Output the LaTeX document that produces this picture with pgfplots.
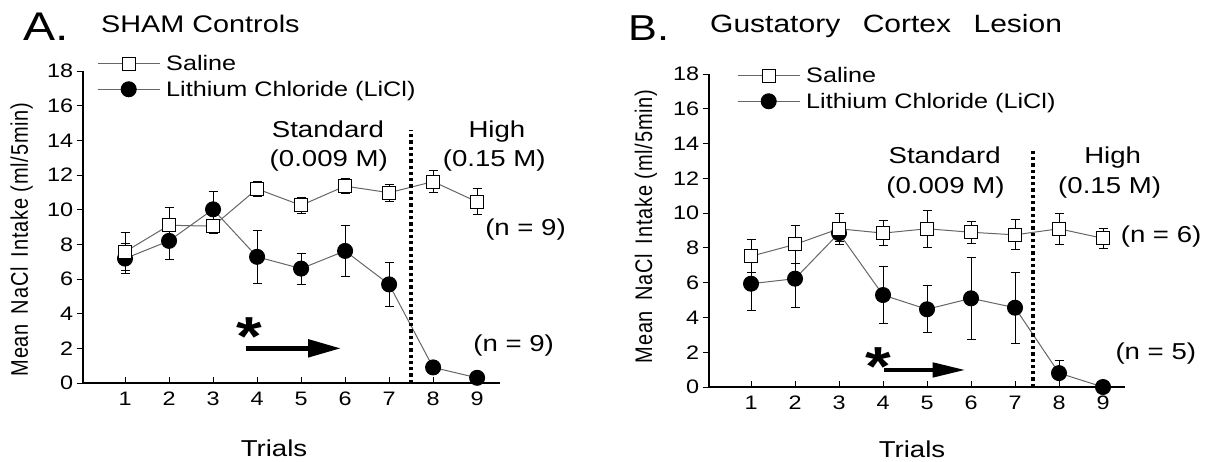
\documentclass[border=0pt]{standalone}
\usepackage{fontspec}
\setmainfont{Liberation Sans}[FakeStretch=1.2]
\newfontfamily\ylabfont{Liberation Sans}[LetterSpace=4]
\usepackage{graphicx}
\usepackage{pgfplots}
\pgfplotsset{compat=1.18}
\usepackage{pgfplotstable}
\usetikzlibrary{arrows.meta}

% trial, mean, sem
\pgfplotstableread{
x y e
1 7.57 1.10
2 9.10 1.00
3 9.05 0.40
4 11.20 0.45
5 10.25 0.45
6 11.36 0.43
7 10.98 0.50
8 11.62 0.65
9 10.45 0.75
}\shamsal
\pgfplotstableread{
x y e
1 7.18 0.85
2 8.20 1.10
3 10.02 1.05
4 7.28 1.53
5 6.60 0.90
6 7.62 1.48
7 5.69 1.26
8 0.90 0
9 0.30 0
}\shamli
\pgfplotstableread{
x y e
1 7.52 0.95
2 8.20 1.08
3 9.10 0.90
4 8.85 0.70
5 9.10 1.05
6 8.90 0.62
7 8.75 0.86
8 9.10 0.90
9 8.55 0.57
}\gcsal
\pgfplotstableread{
x y e
1 5.94 1.53
2 6.23 1.65
3 8.85 0.50
4 5.29 1.63
5 4.47 1.36
6 5.10 2.35
7 4.56 2.03
8 0.80 0.75
9 0.00 0
}\gcli

\tikzset{
  note/.style={font=\fontsize{23}{23}\selectfont, anchor=base, inner sep=0pt},
  sepline/.style={line width=3.3pt, dash pattern=on 3.3pt off 3pt},
}
\pgfplotsset{
  panel/.style={
    scale only axis,
    axis lines=left,
    axis line style={-, line width=1.2pt, black},
    ymin=0, ymax=18, ytick={0,2,...,18}, xtick={1,...,9},
    tick align=inside, major tick length=6.5pt,
    tick style={black, line width=1pt},
    y tick style={xshift=-6.5pt},
    /pgf/number format/assume math mode=true,
    ticklabel style={font=\fontsize{19.5}{20}\selectfont, inner sep=0pt},
    xticklabel style={anchor=north, yshift=-9pt},
    yticklabel style={anchor=east, xshift=-9.7pt},
    xlabel={Trials},
    ylabel={\scalebox{1}[1.2]{\ylabfont\fontsize{20}{20}\selectfont Mean\hspace{0.5em}NaCl\hspace{0.5em}Intake (ml/5min)}},
    label style={font=\fontsize{23}{23}\selectfont, inner sep=0pt},
    ylabel style={anchor=base},
    clip=false,
    reverse legend,
    legend cell align=left,
    legend style={draw=none, fill=none, font=\fontsize{21}{24}\selectfont,
      inner sep=0pt, row sep=5pt, column sep=4pt, anchor=north west},
    legend image code/.code={\draw[mark repeat=2, mark phase=2, #1]
      plot coordinates {(0pt,0pt) (31pt,0pt) (62pt,0pt)};},
  },
  licl/.style={draw=black!60, line width=1pt, mark=*, mark size=7.5pt,
    mark options={draw=black, fill=black, solid}},
  saline/.style={draw=black!60, line width=1pt, mark=square*, mark size=6.5pt,
    mark options={draw=black, fill=white, solid, line width=1pt}},
  sem/.style={error bars/.cd, y dir=both, y explicit,
    error bar style={black, line width=1pt},
    error mark options={rotate=90, mark size=4.5pt, black, line width=1pt}},
}

\begin{document}
\begin{tikzpicture}
\path[use as bounding box] (0pt,0pt) rectangle (1207pt,-461pt);

\node[anchor=base west, inner sep=0pt, font=\fontsize{40}{40}\selectfont] at (23pt,-40pt) {A.};
\node[anchor=base west, inner sep=0pt, font=\fontsize{24}{24}\selectfont] at (101pt,-32pt) {SHAM Controls};
\node[anchor=base west, inner sep=0pt, font=\fontsize{36}{36}\selectfont] at (628pt,-40pt) {B.};
\node[anchor=base west, inner sep=0pt, font=\fontsize{25}{25}\selectfont] at (710pt,-32pt) {Gustatory\hspace{0.9em}Cortex\hspace{0.9em}Lesion};

% ---------- A. SHAM controls
\begin{axis}[panel,
  at={(83pt,-383pt)}, anchor=south west,
  width=417pt, height=312pt,
  xmin=0.045, xmax=9.52,
  xlabel style={at={(axis description cs:0.458,0)}, anchor=base, yshift=-73pt},
  ylabel style={at={(axis description cs:-0.132,0.46)}},
  legend style={at={(axis description cs:0,1)}, xshift=14pt, yshift=18pt},
]
\addplot[licl, sem] table[x=x, y=y, y error=e] {\shamli};
\addlegendentry{Lithium Chloride (LiCl)}
\addplot[saline, sem] table[x=x, y=y, y error=e] {\shamsal};
\addlegendentry{Saline}

\draw[sepline] (axis cs:7.5,0) -- (axis cs:7.5,14.6);
\draw[line width=5pt, -{Triangle[length=33pt,width=17pt]}] (axis cs:3.74,2) -- (axis cs:5.91,2);
\node[anchor=north, inner sep=0pt, font=\fontsize{55}{55}\selectfont\bfseries] at (axis cs:3.83,3.81) {*};
\node[note] at (axis cs:5.61,14.14) {Standard};
\node[note] at (axis cs:5.63,12.5) {(0.009 M)};
\node[note] at (axis cs:9.45,14.14) {High};
\node[note] at (axis cs:9.39,12.5) {(0.15 M)};
\node[note] at (axis cs:10.1,8.53) {(n = 9)};
\node[note] at (axis cs:9.83,1.8) {(n = 9)};
\end{axis}

% ---------- B. Gustatory cortex lesion
\begin{axis}[panel,
  at={(709pt,-387pt)}, anchor=south west,
  width=416pt, height=313pt,
  xmin=0.045, xmax=9.5,
  xlabel style={at={(axis description cs:0.488,0)}, anchor=base, yshift=-70pt},
  ylabel style={at={(axis description cs:-0.137,0.513)}},
  legend style={at={(axis description cs:0,1)}, xshift=28pt, yshift=9pt},
]
\addplot[licl, sem] table[x=x, y=y, y error=e] {\gcli};
\addlegendentry{Lithium Chloride (LiCl)}
\addplot[saline, sem] table[x=x, y=y, y error=e] {\gcsal};
\addlegendentry{Saline}

\draw[sepline] (axis cs:7.41,0) -- (axis cs:7.41,13.74);
\draw[line width=4.5pt, -{Triangle[length=33pt,width=14pt]}] (axis cs:4.03,0.98) -- (axis cs:5.88,0.98);
\node[anchor=north, inner sep=0pt, font=\fontsize{55}{55}\selectfont\bfseries] at (axis cs:3.9,2.3) {*};
\node[note] at (axis cs:5.40,12.88) {Standard};
\node[note] at (axis cs:5.42,11.15) {(0.009 M)};
\node[note] at (axis cs:9.22,12.88) {High};
\node[note] at (axis cs:9.15,11.15) {(0.15 M)};
\node[note] at (axis cs:10.32,8.3) {(n = 6)};
\node[note] at (axis cs:10.2,1.6) {(n = 5)};
\end{axis}
\end{tikzpicture}
\end{document}
